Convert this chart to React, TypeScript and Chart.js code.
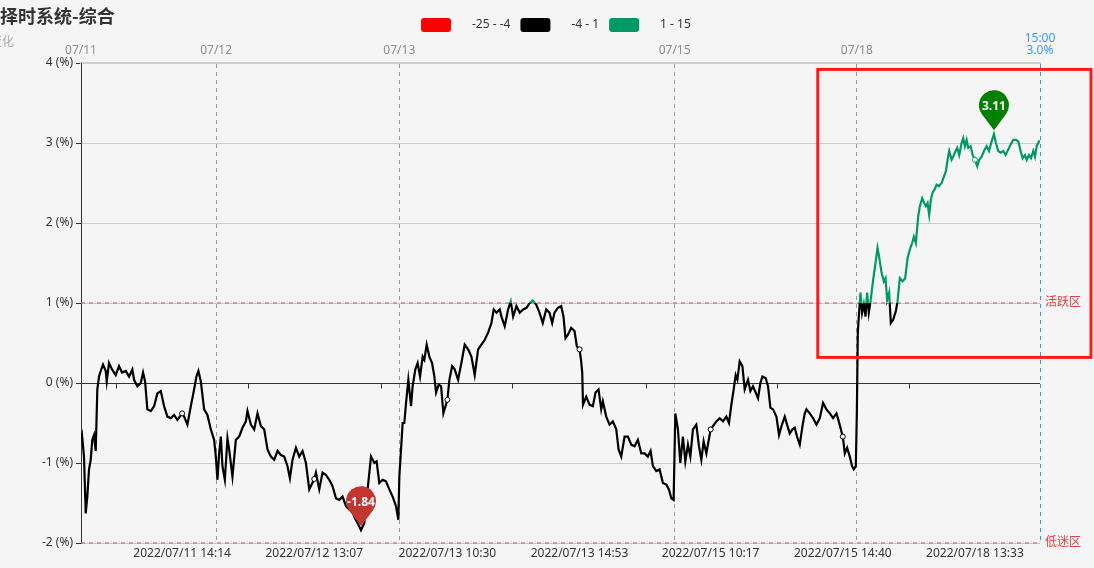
import React, { useEffect, useRef } from 'react';
import { Chart, registerables } from 'chart.js';

Chart.register(...registerables);

// time index of each sample (trading-time units, 0 .. 958)
const times = [
  0, 1, 3, 4.7, 6.3, 8, 9.7, 11.3, 13, 14.7,
  16.3, 18, 19.7, 22, 24.7, 25.7, 28, 31, 34.7, 38,
  41, 44.7, 48, 51.3, 53, 56.3, 59.7, 62, 64, 66.3,
  69.7, 73, 76.3, 79.7, 83, 86.3, 89.7, 93, 96.3, 101,
  103, 106.3, 109.7, 113, 115.3, 117.3, 119.7, 123, 126.3, 129.7,
  133, 134.7, 136.3, 138, 139.7, 141.3, 143.7, 146.3, 148, 151.3,
  154.7, 158, 161.3, 164.7, 166.3, 169.7, 173, 176.3, 179.7, 183,
  186.3, 189.7, 193, 196.3, 199.7, 203, 206.3, 208.7, 211.3, 214.7,
  218, 221.3, 224.7, 228, 233, 234.7, 238, 241.3, 244.7, 248,
  251.3, 254.7, 258, 261.3, 264.7, 268, 271.3, 274, 276.3, 279.7,
  283, 286.3, 289.7, 293, 295.3, 298, 301.3, 304.7, 308, 311.3,
  314.7, 317, 318, 319.7, 321.3, 323, 324.7, 327, 329.7, 331.3,
  334, 336.3, 338.7, 341.3, 343, 345.3, 348, 350.7, 353, 354.7,
  357.3, 359.7, 362, 366, 368, 370.7, 373.3, 376.7, 380, 383.3,
  386.7, 390, 393.3, 396.7, 400, 403.3, 406.7, 410, 412.3, 415,
  418.3, 420, 423.3, 426.7, 429.3, 431.7, 435, 438.3, 441.7, 445,
  448.3, 451.3, 454.7, 458, 461.3, 464.7, 468, 470.7, 473, 476.3,
  479.7, 482, 484, 486.3, 489.7, 493, 495.3, 498, 499.5, 500.7,
  501.5, 504.7, 508, 511.3, 514, 517, 519.7, 521.3, 524.7, 528,
  531.3, 534.7, 537, 539.7, 543, 546.3, 549.7, 553, 556.3, 559.7,
  563, 566.3, 569, 571.3, 574.7, 578, 581.3, 584.7, 587.3, 589.7,
  592, 593.7, 596.3, 598.7, 601.3, 603.7, 606.3, 608.7, 611.3, 614.7,
  617.3, 619.7, 622, 624.7, 629, 631.3, 634.7, 638, 641.3, 644.7,
  647.3, 649.7, 652, 654, 655.7, 658, 660.7, 663, 666.3, 668.7,
  671.3, 674, 676.3, 678.7, 680.7, 684, 686.3, 688.7, 691.3, 694.7,
  697.3, 699.7, 703, 705.3, 708, 710.7, 713, 715.3, 718, 720.7,
  723, 724.7, 728, 731.3, 734.7, 738, 741.3, 744.7, 748, 751.3,
  754.7, 757, 761, 763, 765.3, 768, 770.3, 772, 774, 775,
  776, 777, 778.7, 780.3, 782, 783.7, 785.3, 787, 788.7, 791.3,
  793.7, 795.7, 797.3, 799.7, 802, 803.7, 805.3, 807.3, 809, 811.3,
  814, 815.7, 818, 820.7, 823.3, 825.7, 828, 830.3, 832, 834,
  836.3, 838, 840.3, 842.3, 844, 845.7, 847.3, 849, 850.7, 852.7,
  854.7, 857, 859.7, 862, 864, 865.7, 867.3, 869.7, 871.3, 873.7,
  875.3, 877.3, 879.7, 881.3, 883, 884.7, 886.3, 888.7, 890.7, 893,
  895.3, 897.3, 899.7, 902, 904.7, 907, 909.7, 912, 914, 916.3,
  918.7, 921.3, 923.7, 926.3, 928.7, 931.3, 934, 936.3, 938.7, 940.7,
  943, 944.7, 947, 949, 951.3, 953, 954.7, 957, 958,
];

// composite timing-signal value (%)
const values = [
  -0.70, -0.65, -0.92, -1.63, -1.42, -1.08, -0.96, -0.71, -0.65, -0.85,
  -0.08, 0.08, 0.15, 0.23, 0.15, 0.02, 0.25, 0.17, 0.10, 0.21,
  0.13, 0.15, 0.08, 0.17, 0.04, -0.04, 0.00, 0.13, 0.02, -0.33,
  -0.35, -0.29, -0.13, -0.10, -0.29, -0.42, -0.44, -0.40, -0.46, -0.38,
  -0.42, -0.52, -0.29, -0.08, 0.08, 0.15, 0.02, -0.33, -0.40, -0.58,
  -0.71, -0.92, -1.21, -0.88, -0.67, -1.04, -1.21, -0.69, -0.83, -1.17,
  -0.71, -0.67, -0.56, -0.48, -0.35, -0.52, -0.58, -0.38, -0.54, -0.58,
  -0.83, -0.92, -0.96, -0.85, -0.90, -0.92, -1.04, -1.19, -0.96, -0.81,
  -0.92, -0.85, -1.00, -1.33, -1.20, -1.12, -1.33, -1.12, -1.15, -1.21,
  -1.29, -1.44, -1.46, -1.42, -1.54, -1.58, -1.62, -1.70, -1.75, -1.84,
  -1.75, -1.33, -0.92, -1.00, -0.98, -1.25, -1.21, -1.23, -1.33, -1.42,
  -1.54, -1.71, -1.17, -0.83, -0.50, -0.50, -0.25, 0.04, -0.29, -0.04,
  0.17, 0.25, 0.08, 0.33, 0.29, 0.48, 0.33, 0.25, 0.08, -0.12,
  -0.02, -0.04, -0.38, -0.21, 0.04, 0.21, 0.17, 0.04, 0.25, 0.48,
  0.42, 0.33, 0.10, 0.42, 0.48, 0.54, 0.63, 0.75, 0.92, 0.88,
  0.92, 0.83, 0.71, 0.92, 1.02, 0.83, 0.96, 0.88, 0.92, 0.94,
  1.00, 1.03, 0.98, 0.88, 0.75, 0.92, 0.88, 0.75, 0.88, 0.94,
  0.96, 0.83, 0.56, 0.60, 0.69, 0.65, 0.46, 0.42, 0.29, 0.13,
  -0.27, -0.17, -0.27, -0.29, -0.12, -0.08, -0.33, -0.23, -0.42, -0.52,
  -0.48, -0.58, -0.83, -0.92, -0.67, -0.67, -0.77, -0.79, -0.71, -0.88,
  -0.88, -0.92, -0.85, -1.04, -1.10, -1.08, -1.25, -1.27, -1.33, -1.44,
  -1.46, -0.38, -0.58, -1.00, -0.67, -0.98, -0.77, -0.92, -0.58, -0.52,
  -0.79, -0.96, -0.73, -0.88, -0.58, -0.54, -0.48, -0.44, -0.48, -0.42,
  -0.50, -0.27, -0.08, 0.10, 0.04, 0.27, 0.21, -0.08, 0.04, -0.10,
  -0.04, -0.12, -0.19, 0.00, 0.08, 0.06, -0.04, -0.31, -0.33, -0.42,
  -0.65, -0.54, -0.42, -0.52, -0.63, -0.58, -0.56, -0.67, -0.77, -0.54,
  -0.38, -0.33, -0.38, -0.44, -0.52, -0.44, -0.25, -0.33, -0.38, -0.44,
  -0.38, -0.48, -0.67, -0.88, -0.81, -0.92, -1.04, -1.08, -1.04, -0.40,
  0.63, 0.83, 1.13, 0.88, 0.99, 0.83, 1.13, 0.88, 1.02, 1.29,
  1.50, 1.69, 1.58, 1.38, 1.27, 1.31, 1.04, 1.13, 0.75, 0.79,
  0.90, 1.02, 1.31, 1.27, 1.31, 1.56, 1.67, 1.75, 1.83, 1.75,
  2.08, 2.21, 2.31, 2.25, 2.21, 2.25, 2.10, 2.29, 2.38, 2.42,
  2.48, 2.46, 2.50, 2.58, 2.65, 2.79, 2.90, 2.79, 2.83, 2.90,
  2.94, 2.85, 3.00, 3.06, 2.96, 3.04, 2.94, 2.96, 2.85, 2.79,
  2.71, 2.79, 2.83, 2.90, 2.96, 2.90, 3.02, 3.11, 3.00, 2.90,
  2.88, 2.90, 2.85, 2.92, 2.98, 3.04, 3.04, 3.02, 2.90, 2.81,
  2.85, 2.79, 2.85, 2.81, 2.90, 2.83, 2.96, 3.02, 3.02,
];

// day boundaries (top axis)
const dayPositions = [0, 135, 318, 593, 775, 958];
const dayLabels = ['07/11', '07/12', '07/13', '07/15', '07/18', '15:00'];

// bottom axis labels
const bottomPositions = [101, 233, 366, 498, 629, 761, 893];
const bottomLabels = [
  '2022/07/11 14:14',
  '2022/07/12 13:07',
  '2022/07/13 10:30',
  '2022/07/13 14:53',
  '2022/07/15 10:17',
  '2022/07/15 14:40',
  '2022/07/18 13:33',
];
// axis tick marks on the zero line
const axisTickPositions = [35, 167, 300, 431, 564, 695, 827];

// visual pieces
const pieceLabels = ['-25 - -4', '-4 - 1', '1 - 15'];
const pieceColors = ['#ff0000', '#000000', '#009966'];
const pieceMins = [-25, -4, 1];

// reference zones
const zoneLevels = [1, -2];
const zoneLabels = ['活跃区', '低迷区'];

// highlighted region (time range start, value range)
const highlightStart = 736;
const highlightValues = [3.92, 0.32];

const FONT = '"Noto Sans", "Noto Sans CJK SC", sans-serif';

function colorFor(v: number) {
  if (v >= pieceMins[2]) return pieceColors[2];
  if (v >= pieceMins[1]) return pieceColors[1];
  return pieceColors[0];
}

function lineGradient(chart: any) {
  const { ctx, chartArea, scales } = chart;
  if (!chartArea) return '#000';
  const y = scales.y;
  const top = chartArea.top;
  const bottom = chartArea.bottom;
  const frac = (v: number) =>
    Math.min(1, Math.max(0, (y.getPixelForValue(v) - top) / (bottom - top)));
  const g = ctx.createLinearGradient(0, top, 0, bottom);
  const f1 = frac(pieceMins[2]);
  const f2 = frac(pieceMins[1]);
  g.addColorStop(0, pieceColors[2]);
  g.addColorStop(f1, pieceColors[2]);
  g.addColorStop(f1, pieceColors[1]);
  if (f2 < 1) {
    g.addColorStop(f2, pieceColors[1]);
    g.addColorStop(f2, pieceColors[0]);
    g.addColorStop(1, pieceColors[0]);
  } else {
    g.addColorStop(1, pieceColors[1]);
  }
  return g;
}

function drawPin(ctx: CanvasRenderingContext2D, px: number, py: number, color: string, text: string) {
  const r = 15;
  const cx = px;
  const cy = py - 29;
  const tipY = py - 4;
  const d = tipY - cy;
  const phi = Math.acos(r / d);
  ctx.save();
  ctx.fillStyle = color;
  ctx.beginPath();
  ctx.moveTo(cx, tipY);
  ctx.arc(cx, cy, r, Math.PI / 2 + phi, Math.PI / 2 - phi + Math.PI * 2, false);
  ctx.closePath();
  ctx.fill();
  ctx.fillStyle = '#fff';
  ctx.font = `bold 12px ${FONT}`;
  ctx.textAlign = 'center';
  ctx.textBaseline = 'middle';
  ctx.fillText(text, cx, cy + 1);
  ctx.restore();
}

const decorPlugin = {
  id: 'decor',
  beforeDatasetsDraw(chart: any) {
    const { ctx, chartArea: a, scales } = chart;
    const x = scales.x;
    const y = scales.y;
    ctx.save();
    ctx.strokeStyle = 'rgba(214,96,96,0.75)';
    ctx.lineWidth = 1.5;
    ctx.setLineDash([4, 4]);
    zoneLevels.forEach((lv) => {
      const py = Math.round(y.getPixelForValue(lv));
      ctx.beginPath();
      ctx.moveTo(a.left, py);
      ctx.lineTo(a.right, py);
      ctx.stroke();
    });
    ctx.setLineDash([]);
    ctx.lineWidth = 1;
    const zy = Math.round(y.getPixelForValue(0)) + 0.5;
    ctx.strokeStyle = '#333';
    axisTickPositions.forEach((t) => {
      const px = Math.round(x.getPixelForValue(t)) + 0.5;
      ctx.beginPath();
      ctx.moveTo(px, zy);
      ctx.lineTo(px, zy + 5);
      ctx.stroke();
    });
    ctx.restore();
  },
  afterDatasetsDraw(chart: any) {
    const { ctx, chartArea: a, scales, width } = chart;
    const x = scales.x;
    const y = scales.y;
    ctx.save();

    // zone labels
    ctx.font = `12px ${FONT}`;
    ctx.fillStyle = '#dd4040';
    ctx.textAlign = 'left';
    ctx.textBaseline = 'middle';
    zoneLevels.forEach((lv, i) => {
      ctx.fillText(zoneLabels[i], a.right + 5, y.getPixelForValue(lv));
    });

    // min / max pins
    let minI = 0;
    let maxI = 0;
    values.forEach((v, i) => {
      if (v < values[minI]) minI = i;
      if (v > values[maxI]) maxI = i;
    });
    drawPin(ctx, x.getPixelForValue(times[minI]), y.getPixelForValue(values[minI]), '#c23531', values[minI].toFixed(2));
    drawPin(ctx, x.getPixelForValue(times[maxI]), y.getPixelForValue(values[maxI]), '#008000', values[maxI].toFixed(2));

    // title & subtitle
    ctx.fillStyle = '#333';
    ctx.font = `bold 18px "Noto Sans CJK SC", sans-serif`;
    ctx.textAlign = 'left';
    ctx.textBaseline = 'middle';
    ctx.fillText('择时系统-综合', 0, 16);
    ctx.fillStyle = '#aaa';
    ctx.font = `12px "Noto Sans CJK SC", sans-serif`;
    ctx.textAlign = 'right';
    ctx.fillText('变化', 14, 41);

    // legend
    let lx = 421;
    const ly = 25;
    ctx.textAlign = 'left';
    ctx.font = `12px ${FONT}`;
    pieceLabels.forEach((lab, i) => {
      ctx.fillStyle = pieceColors[i];
      ctx.beginPath();
      (ctx as any).roundRect(lx, ly - 7, 30, 14, 3);
      ctx.fill();
      lx += 30 + 21;
      ctx.fillStyle = '#333';
      ctx.fillText(lab, lx, ly);
      lx += ctx.measureText(lab).width + 10;
    });

    // highlight rectangle
    const rx = x.getPixelForValue(highlightStart);
    const ry1 = y.getPixelForValue(highlightValues[0]);
    const ry2 = y.getPixelForValue(highlightValues[1]);
    ctx.strokeStyle = '#ff1a1a';
    ctx.lineWidth = 3;
    ctx.strokeRect(rx, ry1, width - 3 - rx, ry2 - ry1);
    ctx.restore();
  },
};

export default function App() {
  const ref = useRef<HTMLCanvasElement | null>(null);

  useEffect(() => {
    document.body.style.margin = '0';
    document.body.style.background = '#f5f5f5';
    if (!ref.current) return;
    const last = dayPositions.length - 1;
    const endValue = `${values[values.length - 1].toFixed(1)}%`;
    const chart = new Chart(ref.current, {
      type: 'line',
      data: {
        datasets: [
          {
            data: times.map((t, i) => ({ x: t, y: values[i] })),
            borderColor: (c: any) => lineGradient(c.chart),
            borderWidth: 2.2,
            tension: 0,
            fill: false,
            pointRadius: (c: any) => (bottomPositions.includes(times[c.dataIndex]) ? 2.5 : 0),
            pointBackgroundColor: '#fff',
            pointBorderColor: (c: any) => colorFor(values[c.dataIndex]),
            pointBorderWidth: 1,
            pointHoverRadius: 0,
          },
        ],
      },
      options: {
        responsive: true,
        maintainAspectRatio: false,
        animation: false,
        events: [],
        layout: { padding: { left: 0, right: 54, top: 0, bottom: 0 } },
        plugins: {
          legend: { display: false },
          title: { display: false },
          tooltip: { enabled: false },
        },
        scales: {
          x: {
            type: 'linear',
            position: 'bottom',
            min: 0,
            max: 958,
            afterBuildTicks: (s: any) => {
              s.ticks = bottomPositions.map((v) => ({ value: v }));
            },
            afterFit: (s: any) => {
              s.height = 25;
            },
            ticks: {
              autoSkip: false,
              maxRotation: 0,
              padding: 3,
              color: '#333',
              font: { family: FONT, size: 12 },
              callback: (_v: any, i: number) => bottomLabels[i],
            },
            grid: { display: false, drawTicks: false },
            border: { display: false },
          },
          x2: {
            type: 'linear',
            position: 'top',
            min: 0,
            max: 958,
            afterBuildTicks: (s: any) => {
              s.ticks = dayPositions.map((v) => ({ value: v }));
            },
            afterFit: (s: any) => {
              s.height = 63;
            },
            ticks: {
              autoSkip: false,
              maxRotation: 0,
              padding: 6,
              color: (c: any) => (c.index === last ? '#3399ff' : '#8c8c8c'),
              font: { family: FONT, size: 12, lineHeight: 1.0 },
              callback: (_v: any, i: number) => (i === last ? [dayLabels[i], endValue] : dayLabels[i]),
            },
            grid: {
              drawOnChartArea: true,
              drawTicks: false,
              color: (c: any) => (c.index === last ? '#3399ff' : '#999'),
              lineWidth: 1,
            },
            border: { display: true, color: '#d0d0d0', width: 2, dash: [4, 4] },
          },
          y: {
            min: -2,
            max: 4,
            afterFit: (s: any) => {
              s.width = 81;
            },
            ticks: {
              stepSize: 1,
              padding: 3,
              color: '#333',
              font: { family: FONT, size: 12 },
              callback: (v: any) => `${v} (%)`,
            },
            grid: {
              color: (c: any) => {
                const v = c.tick ? c.tick.value : null;
                if (v === 0) return '#333';
                return '#cccccc';
              },
              tickColor: '#333',
              tickLength: 5,
              drawTicks: true,
            },
            border: { display: true, color: '#333', width: 1 },
          },
        },
      },
      plugins: [decorPlugin],
    } as any);
    return () => chart.destroy();
  }, []);

  return (
    <div style={{ width: 1094, height: 568, position: 'relative', background: '#f5f5f5' }}>
      <canvas ref={ref} />
    </div>
  );
}
